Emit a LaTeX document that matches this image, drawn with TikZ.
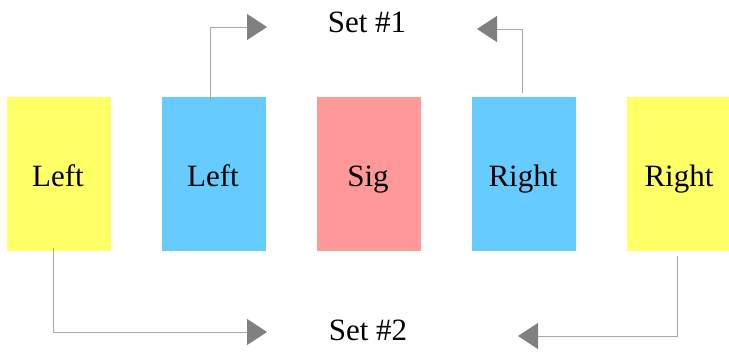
\documentclass[tikz,border=0pt]{standalone}
\usepackage{fontspec}
\setmainfont{Liberation Serif}
\usetikzlibrary{arrows.meta}
\definecolor{boxyellow}{HTML}{FFFF66}
\definecolor{boxblue}{HTML}{66CCFF}
\definecolor{boxred}{HTML}{FF9999}
\definecolor{linegray}{HTML}{A8A8A8}
\definecolor{tipgray}{HTML}{808080}
\tikzset{
  cell/.style={minimum width=104pt, minimum height=154pt, inner sep=0pt, draw=none},
  lbl/.style={font=\fontsize{31}{31}\selectfont, anchor=base, inner sep=0pt},
  conn/.style={draw=linegray, line width=1pt,
    -{Triangle[length=20pt,width=26pt,color=tipgray,fill=tipgray]}}
}
\begin{document}
\begin{tikzpicture}[x=1pt,y=-1pt]
\useasboundingbox (0,0) rectangle (729,356);
\begin{scope}
\clip (0,0) rectangle (729,356);
\node[cell, fill=boxyellow] (b1) at (59,174) {};
\node[cell, fill=boxblue]   (b2) at (214,174) {};
\node[cell, fill=boxred]    (b3) at (369,174) {};
\node[cell, fill=boxblue]   (b4) at (524,174) {};
\node[cell, fill=boxyellow] (b5) at (679,174) {};
\end{scope}
\node[lbl] (l1) at (58,186) {Left};
\node[lbl] (l2) at (213,186) {Left};
\node[lbl] (l3) at (368,186) {Sig};
\node[lbl] (l4) at (523,186) {Right};
\node[lbl] (l5) at (679,186) {Right};
\node[lbl] (s1) at (367,32.7) {Set \#1};
\node[lbl] (s2) at (368,340.7) {Set \#2};
\coordinate (t1) at (267,27);
\coordinate (t2) at (477,29);
\coordinate (t3) at (267,332);
\coordinate (t4) at (518,336);
\draw[conn] ([xshift=-4pt,yshift=-5pt]b2.north) |- (t1);
\draw[conn] ([xshift=-2pt,yshift=4pt]b4.north) |- (t2);
\draw[conn] ([xshift=-6pt,yshift=3pt]b1.south) |- (t3);
\draw[conn] ([xshift=-2pt,yshift=-5pt]b5.south) |- (t4);
\end{tikzpicture}
\end{document}
